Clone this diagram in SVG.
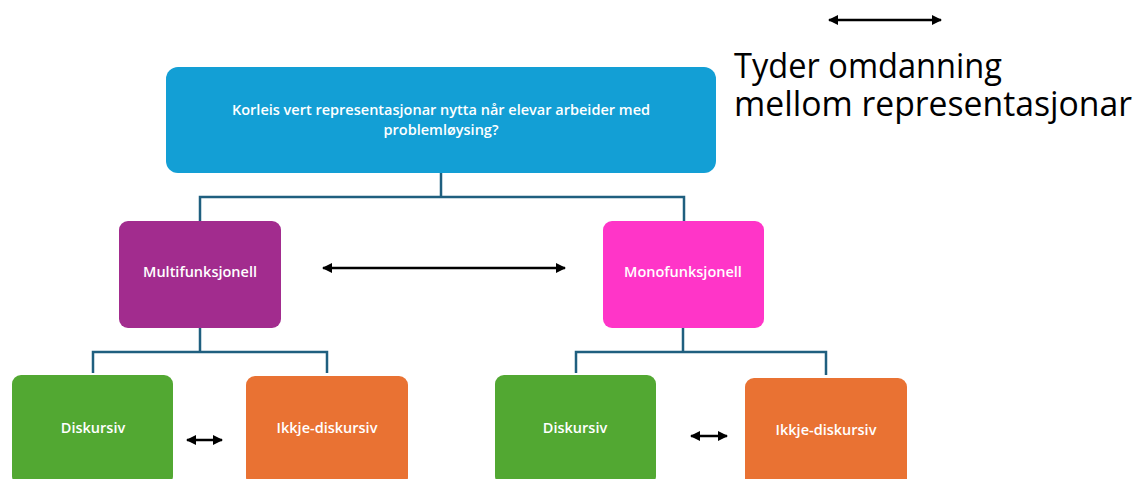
<svg xmlns="http://www.w3.org/2000/svg" width="1139" height="479" viewBox="0 0 1139 479">
<defs>
<marker id="ah" viewBox="0 0 10 10" refX="9" refY="5" markerWidth="4" markerHeight="4" orient="auto-start-reverse" markerUnits="strokeWidth">
<path d="M0,0 L10,5 L0,10 z" fill="#000"/>
</marker>
<style>
.lbl{font-family:"Open Sans","Liberation Sans",sans-serif;font-weight:600;fill:#fff;text-anchor:middle;font-size:14.5px}
.conn{fill:none;stroke:#1F5F7F;stroke-width:2.5}
.arr{stroke:#000;stroke-width:2.5;fill:none;marker-start:url(#ah);marker-end:url(#ah)}
.leg{font-family:"Open Sans","Liberation Sans",sans-serif;font-size:34px;fill:#000}
</style>
</defs>
<rect width="1139" height="479" fill="#fff"/>
<g id="connectors">
<path class="conn" d="M441,173 V197 M200,221 V197 H684 V221"/>
<path class="conn" d="M200,328 V352 M93,373 V352 H327 V373"/>
<path class="conn" d="M683,328 V352 M576,373 V352 H826 V375"/>
<line class="arr" x1="323" y1="268" x2="565" y2="268"/>
<line class="arr" x1="187" y1="440" x2="222" y2="440"/>
<line class="arr" x1="691" y1="436" x2="727" y2="436"/>
</g>
<g id="root">
<rect x="166" y="67" width="550" height="106" rx="12" fill="#139FD5"/>
<text class="lbl" x="441" y="115">Korleis vert representasjonar nytta når elevar arbeider med</text>
<text class="lbl" x="441" y="135">problemløysing?</text>
</g>
<g id="multi">
<rect x="119" y="221" width="162" height="107" rx="9" fill="#A22C8E"/>
<text class="lbl" x="200" y="277">Multifunksjonell</text>
</g>
<g id="mono">
<rect x="603" y="221" width="161" height="107" rx="9" fill="#FF35C8"/>
<text class="lbl" x="683" y="277">Monofunksjonell</text>
</g>
<g id="disk1">
<rect x="12" y="375" width="161" height="110" rx="9" fill="#52A832"/>
<text class="lbl" x="93" y="433">Diskursiv</text>
</g>
<g id="ikkje1">
<rect x="246" y="376" width="162" height="110" rx="9" fill="#E97233"/>
<text class="lbl" x="327" y="433">Ikkje-diskursiv</text>
</g>
<g id="disk2">
<rect x="495" y="375" width="161" height="110" rx="9" fill="#52A832"/>
<text class="lbl" x="575" y="433">Diskursiv</text>
</g>
<g id="ikkje2">
<rect x="745" y="378" width="162" height="110" rx="9" fill="#E97233"/>
<text class="lbl" x="826" y="435">Ikkje-diskursiv</text>
</g>
<g id="legend">
<line class="arr" x1="829" y1="20" x2="941" y2="20"/>
<text class="leg" x="734" y="78" textLength="268" lengthAdjust="spacingAndGlyphs">Tyder omdanning</text>
<text class="leg" x="734" y="116" textLength="398" lengthAdjust="spacingAndGlyphs">mellom representasjonar</text>
</g>
</svg>
